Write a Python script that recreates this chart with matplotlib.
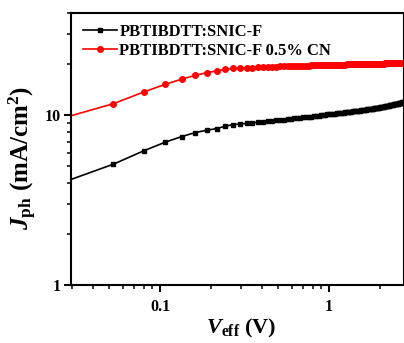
import matplotlib
matplotlib.use("Agg")
import matplotlib.pyplot as plt
from matplotlib.ticker import LogLocator, FixedLocator, NullFormatter, FixedFormatter

plt.rcParams['font.family'] = 'Liberation Serif'
plt.rcParams['font.weight'] = 'bold'
plt.rcParams['mathtext.fontset'] = 'custom'
plt.rcParams['mathtext.rm'] = 'Liberation Serif:bold'
plt.rcParams['mathtext.bf'] = 'Liberation Serif:bold'
plt.rcParams['mathtext.it'] = 'Liberation Serif:italic:bold'
plt.rcParams['mathtext.bfit'] = 'Liberation Serif:italic:bold'

v_eff = [0.026, 0.053, 0.080, 0.107, 0.134, 0.162, 0.189, 0.216, 0.243, 0.270,
         0.298, 0.325, 0.352, 0.379, 0.406, 0.434, 0.461, 0.488, 0.515, 0.542,
         0.570, 0.597, 0.624, 0.651, 0.678, 0.706, 0.733, 0.760, 0.787, 0.814,
         0.842, 0.869, 0.896, 0.923, 0.950, 0.978, 1.005, 1.032, 1.059, 1.086,
         1.114, 1.141, 1.168, 1.195, 1.222, 1.250, 1.277, 1.304, 1.331, 1.358,
         1.386, 1.413, 1.440, 1.467, 1.494, 1.522, 1.549, 1.576, 1.603, 1.630,
         1.658, 1.685, 1.712, 1.739, 1.766, 1.794, 1.821, 1.848, 1.875, 1.902,
         1.930, 1.957, 1.984, 2.011, 2.038, 2.066, 2.093, 2.120, 2.147, 2.174,
         2.202, 2.229, 2.256, 2.283, 2.310, 2.338, 2.365, 2.392, 2.419, 2.446,
         2.474, 2.501, 2.528, 2.555, 2.582, 2.610, 2.637, 2.664, 2.691, 2.718,
         2.746, 2.773, 2.800]

jph_snicf = [3.99, 5.15, 6.17, 6.93, 7.48, 7.91, 8.16, 8.34, 8.61, 8.80,
             8.88, 8.95, 9.02, 9.08, 9.15, 9.21, 9.26, 9.32, 9.37, 9.43,
             9.48, 9.53, 9.58, 9.62, 9.66, 9.70, 9.74, 9.78, 9.82, 9.86,
             9.90, 9.94, 9.98, 10.02, 10.06, 10.10, 10.14, 10.17, 10.20, 10.23,
             10.26, 10.29, 10.32, 10.34, 10.37, 10.39, 10.42, 10.45, 10.47, 10.50,
             10.52, 10.55, 10.58, 10.60, 10.63, 10.65, 10.68, 10.71, 10.73, 10.76,
             10.78, 10.81, 10.84, 10.86, 10.89, 10.91, 10.94, 10.97, 10.99, 11.02,
             11.04, 11.07, 11.10, 11.12, 11.15, 11.18, 11.21, 11.24, 11.27, 11.30,
             11.33, 11.36, 11.39, 11.42, 11.45, 11.48, 11.51, 11.54, 11.57, 11.60,
             11.63, 11.66, 11.69, 11.72, 11.75, 11.78, 11.81, 11.84, 11.87, 11.90,
             11.93, 11.96, 11.99]

jph_snicf_cn = [9.56, 11.7, 13.7, 15.2, 16.3, 17.2, 17.8, 18.25, 18.6, 18.85,
                18.95, 19.02, 19.08, 19.14, 19.20, 19.25, 19.29, 19.33, 19.37, 19.40,
                19.43, 19.46, 19.49, 19.52, 19.55, 19.58, 19.60, 19.62, 19.64, 19.66,
                19.68, 19.70, 19.72, 19.74, 19.76, 19.78, 19.80, 19.81, 19.82, 19.83,
                19.84, 19.85, 19.86, 19.87, 19.88, 19.89, 19.90, 19.91, 19.92, 19.93,
                19.94, 19.95, 19.96, 19.97, 19.98, 19.99, 20.00, 20.01, 20.02, 20.02,
                20.03, 20.04, 20.05, 20.05, 20.06, 20.07, 20.08, 20.08, 20.09, 20.10,
                20.11, 20.11, 20.12, 20.13, 20.14, 20.14, 20.15, 20.16, 20.17, 20.17,
                20.18, 20.19, 20.20, 20.20, 20.21, 20.22, 20.23, 20.23, 20.24, 20.25,
                20.26, 20.26, 20.27, 20.28, 20.29, 20.29, 20.30, 20.31, 20.32, 20.32,
                20.33, 20.34, 20.35]

series_labels = ['PBTIBDTT:SNIC-F', 'PBTIBDTT:SNIC-F 0.5% CN']
x_ticks = [0.1, 1]
x_tick_labels = ['0.1', '1']
y_ticks = [1, 10]
y_tick_labels = ['1', '10']

fig = plt.figure(figsize=(4.04, 3.43), dpi=100)
ax = fig.add_axes([71/404, 1-285/343, (404-71)/404, (285-13)/343])

ax.plot(v_eff, jph_snicf, color='black', marker='s', markersize=3.4, lw=1.2,
        label=series_labels[0])
ax.plot(v_eff, jph_snicf_cn, color='red', marker='o', markersize=4.0, lw=1.2,
        label=series_labels[1])

ax.set_xscale('log')
ax.set_yscale('log')
ax.set_xlim(0.0297, 2.78)
ax.set_ylim(1, 40)

ax.xaxis.set_major_locator(FixedLocator(x_ticks))
ax.xaxis.set_major_formatter(FixedFormatter(x_tick_labels))
ax.yaxis.set_major_locator(FixedLocator(y_ticks))
ax.yaxis.set_major_formatter(FixedFormatter(y_tick_labels))
ax.xaxis.set_minor_locator(LogLocator(base=10, subs=range(2, 10), numticks=20))
ax.yaxis.set_minor_locator(LogLocator(base=10, subs=range(2, 10), numticks=20))
ax.xaxis.set_minor_formatter(NullFormatter())
ax.yaxis.set_minor_formatter(NullFormatter())

for s in ax.spines.values():
    s.set_linewidth(1.5)
ax.tick_params(which='major', direction='out', length=5, width=1.4, labelsize=11.5)
ax.tick_params(which='minor', direction='out', length=3, width=1.1)
ax.tick_params(axis='x', which='both', top=False)
ax.tick_params(axis='y', which='both', right=False)
ax.tick_params(axis='x', pad=5)
ax.tick_params(axis='y', pad=2)

ax.set_xlabel(r'$\mathbfit{V}_{\mathbf{eff}}$ (V)', fontsize=16, fontweight='bold')
ax.set_ylabel(r'$\mathbfit{J}_{\mathbf{ph}}$ (mA/cm$^{\mathbf{2}}$)', fontsize=18,
              fontweight='bold')
ax.xaxis.set_label_coords((241 - 71) / 333, -(317 - 285) / 272)
ax.yaxis.set_label_coords(-(71 - 39) / 333, 1 - (158 - 13) / 272)

leg = ax.legend(loc='upper left', frameon=False, fontsize=11.9, handlelength=2.05,
                handletextpad=0.15, borderaxespad=0.0, borderpad=0.0, labelspacing=0.16,
                bbox_to_anchor=(0.036, 0.959))

fig.savefig('out.png', dpi=100)
